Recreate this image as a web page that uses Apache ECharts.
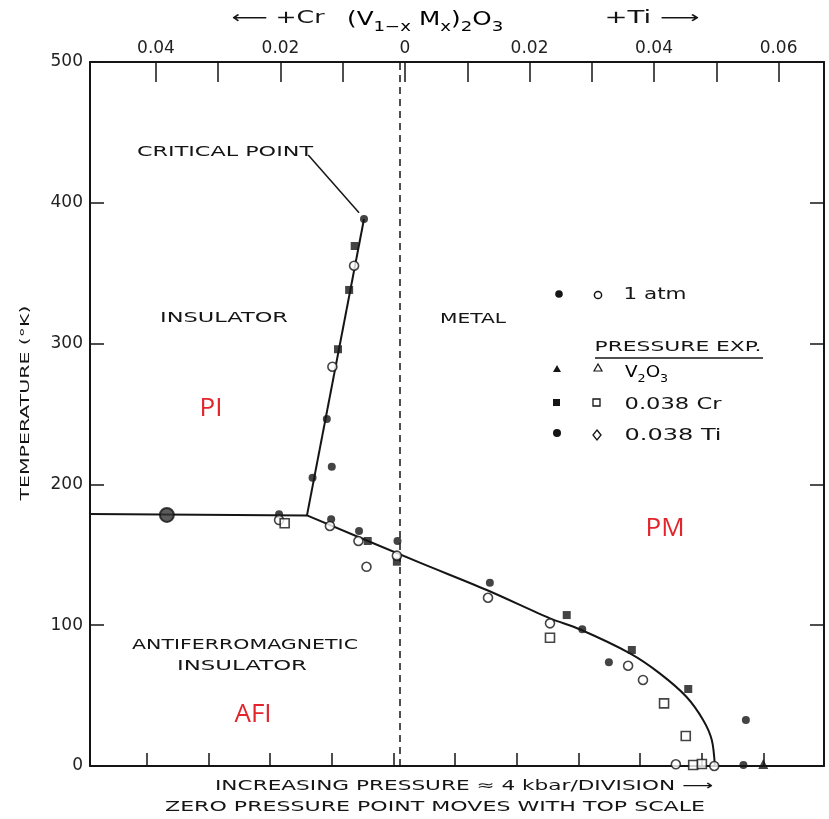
<!DOCTYPE html>
<html>
<head>
<meta charset="utf-8">
<script src="https://cdn.jsdelivr.net/npm/echarts@6/dist/echarts.min.js"></script>
<style>html,body{margin:0;padding:0;background:#fff}#c{width:829px;height:819px}</style>
</head>
<body>
<div id="c"></div>
<script>
// ---------------- data ----------------
const yTickValues = [0, 100, 200, 300, 400, 500];
const topTickValues = [-0.04, -0.02, 0, 0.02, 0.04, 0.06];
const topTickLabels = ['0.04', '0.02', '0', '0.02', '0.04', '0.06'];
const minorTickValues = [-0.04, -0.03, -0.02, -0.01, 0, 0.01, 0.02, 0.03, 0.04, 0.05, 0.06];

// phase boundaries  [composition x (Cr<0, Ti>0), temperature K]
const afiPiBoundary = [[-0.05, 179], [-0.0150, 178]];
const piPmBoundary = [[-0.0150, 178], [-0.0058, 388.5]];
const afiPmBoundary = [[-0.0150, 178], [0.0032, 144.4], [0.0140, 125.0], [0.0242, 104.9], [0.0290, 97.1],
  [0.0371, 80.0], [0.0419, 65.8], [0.0462, 49.2], [0.0489, 32.7], [0.0503, 18.5], [0.0508, 0]];

const filledCircles = [[-0.0058, 388.5], [-0.0118, 246.4], [-0.0110, 212.6], [-0.0141, 204.8], [-0.0195, 178.8],
  [-0.0111, 175.2], [-0.0066, 166.9], [-0.0004, 159.8], [0.0145, 130.2], [0.0294, 97.1], [0.0337, 73.6],
  [0.0558, 32.7], [0.0554, 0.7]];
const filledSquares = [[-0.0073, 369.3], [-0.0082, 338.1], [-0.0100, 296.0], [-0.0052, 159.8],
  [-0.0005, 145.1], [0.0269, 107.2], [0.0374, 82.4], [0.0465, 54.7]];
const openCircles = [[-0.0074, 355.3], [-0.0109, 283.6], [-0.0195, 174.7], [-0.0113, 170.5], [-0.0067, 159.8],
  [-0.0054, 141.5], [-0.0005, 149.4], [0.0142, 119.5], [0.0242, 101.3], [0.0368, 71.2], [0.0392, 61.1],
  [0.0445, 1.2], [0.0507, 0]];
const openSquares = [[-0.0186, 172.4], [0.0242, 91.1], [0.0426, 44.5], [0.0461, 21.3], [0.0473, 0.7], [0.0487, 1.4]];
const filledTriangles = [[0.0586, 1.4]];
const ringPoint = [[-0.0376, 178.3]];

// ---------------- style ----------------
const INK = '#151515';
const FONT = '"DejaVu Sans", "Liberation Sans", sans-serif';
const RED = '#e3242b';

const ctx = document.createElement('canvas').getContext('2d');
function txt(str, cx, cy, size, width, opts) {
  opts = opts || {};
  const font = (opts.weight || 'normal') + ' ' + size + 'px ' + (opts.family || FONT);
  ctx.font = font;
  const w = ctx.measureText(str).width;
  const sx = width ? width / w : 1;
  return {
    type: 'text', x: cx, y: cy, rotation: opts.rotation || 0, scaleX: sx, silent: true, z: 100,
    style: { text: str, font: font, fill: opts.color || INK, align: opts.align || 'center', verticalAlign: 'middle' }
  };
}

function pickLabel(v) {
  for (let i = 0; i < topTickValues.length; i++) {
    if (Math.abs(topTickValues[i] - v) < 1e-6) return topTickLabels[i];
  }
  return '';
}

const chart = echarts.init(document.getElementById('c'));

const subRich = {
  m: { fontSize: 16, fontFamily: FONT, color: INK, lineHeight: 24, verticalAlign: 'middle' },
  s: { fontSize: 11, fontFamily: FONT, color: INK, lineHeight: 24, verticalAlign: 'bottom' }
};
const titleRich = {
  m: { fontSize: 19, fontFamily: FONT, color: INK, lineHeight: 28, verticalAlign: 'middle' },
  s: { fontSize: 14, fontFamily: FONT, color: INK, lineHeight: 28, verticalAlign: 'bottom' }
};

const graphics = [
  // header
  txt('\u27F5 +Cr', 278, 19, 17, 93),
  { type: 'text', x: 347, y: 20, scaleX: 1.3, silent: true, z: 100,
    style: { text: '{m|(V}{s|1\u2212x}{m| M}{s|x}{m|)}{s|2}{m|O}{s|3}', rich: titleRich, align: 'left', verticalAlign: 'middle' } },
  txt('+Ti \u27F6', 652, 19, 17, 95),
  // region labels
  txt('CRITICAL POINT', 225, 152, 14, 176),
  txt('INSULATOR', 224, 318, 14, 128),
  txt('METAL', 473, 319, 14, 66),
  txt('ANTIFERROMAGNETIC', 245, 645, 14, 226),
  txt('INSULATOR', 242, 666, 14, 130),
  txt('PI', 211, 409, 26, null, { color: RED, family: '"Open Sans", "Noto Sans", sans-serif' }),
  txt('AFI', 253, 715, 26, null, { color: RED, family: '"Open Sans", "Noto Sans", sans-serif' }),
  txt('PM', 665, 529, 26, null, { color: RED, family: '"Open Sans", "Noto Sans", sans-serif' }),
  // axis titles
  txt('TEMPERATURE (\u00B0K)', 26, 403, 13, 195, { rotation: Math.PI / 2 }),
  txt('INCREASING PRESSURE \u2248 4 kbar/DIVISION \u27F6', 464, 786, 14, 498),
  txt('ZERO PRESSURE POINT MOVES WITH TOP SCALE', 435, 807, 14, 540),
  // legend
  { type: 'circle', shape: { cx: 559, cy: 294, r: 3.8 }, style: { fill: INK }, silent: true },
  { type: 'circle', shape: { cx: 598, cy: 295, r: 3.6 }, style: { fill: '#fff', stroke: INK, lineWidth: 1.5 }, silent: true },
  txt('1 atm', 655, 295, 16, 63),
  txt('PRESSURE EXP.', 678, 347, 14, 167),
  { type: 'line', shape: { x1: 595, y1: 358, x2: 763, y2: 358 }, style: { stroke: INK, lineWidth: 1.5 }, silent: true },
  { type: 'polygon', shape: { points: [[557, 365], [553, 372], [561, 372]] }, style: { fill: INK }, silent: true },
  { type: 'polygon', shape: { points: [[598, 364], [594, 371], [602, 371]] }, style: { fill: '#fff', stroke: INK, lineWidth: 1.2 }, silent: true },
  { type: 'text', x: 625, y: 373, scaleX: 1.15, silent: true, z: 100,
    style: { text: '{m|V}{s|2}{m|O}{s|3}', rich: subRich, align: 'left', verticalAlign: 'middle' } },
  { type: 'rect', shape: { x: 553, y: 399, width: 7, height: 7 }, style: { fill: INK }, silent: true },
  { type: 'rect', shape: { x: 593, y: 399, width: 7, height: 7 }, style: { fill: '#fff', stroke: INK, lineWidth: 1.3 }, silent: true },
  txt('0.038 Cr', 673, 405, 16, 97),
  { type: 'circle', shape: { cx: 557, cy: 433, r: 4 }, style: { fill: INK }, silent: true },
  { type: 'polygon', shape: { points: [[597, 430], [601, 435], [597, 440], [593, 435]] }, style: { fill: '#fff', stroke: INK, lineWidth: 1.3 }, silent: true },
  txt('0.038 Ti', 673, 436, 16, 97)
];

const lineStyleBase = { color: INK, width: 2 };

const option = {
  animation: false,
  backgroundColor: '#fff',
  grid: { left: 90, right: 5, top: 62, bottom: 53, containLabel: false },
  xAxis: [
    { type: 'value', min: -0.05, max: 0.0684, show: false, axisLine: { onZero: false } },
    { type: 'value', position: 'top', min: -0.0506, max: 0.0673,
      axisLine: { show: true, onZero: false, lineStyle: { color: INK, width: 2 } },
      axisTick: { show: true, inside: true, length: 20, customValues: minorTickValues, lineStyle: { color: INK, width: 1.5 } },
      axisLabel: { show: true, customValues: topTickValues, formatter: pickLabel, margin: 5,
        fontSize: 17, fontFamily: FONT, color: '#222' },
      splitLine: { show: false } },
    { type: 'value', position: 'bottom', min: -0.0492, max: 0.0698,
      axisLine: { show: true, onZero: false, lineStyle: { color: INK, width: 2 } },
      axisTick: { show: true, inside: true, length: 13, customValues: minorTickValues, lineStyle: { color: INK, width: 1.5 } },
      axisLabel: { show: false }, splitLine: { show: false } }
  ],
  yAxis: [
    { type: 'value', position: 'left', min: 0, max: 500, interval: 100,
      axisLine: { show: true, onZero: false, lineStyle: { color: INK, width: 2 } },
      axisTick: { show: true, inside: true, length: 14, lineStyle: { color: INK, width: 1.5 } },
      axisLabel: { show: true, margin: 7, fontSize: 17, fontFamily: FONT, color: '#222' },
      splitLine: { show: false } },
    { type: 'value', position: 'right', min: 0, max: 500, interval: 100,
      axisLine: { show: true, onZero: false, lineStyle: { color: INK, width: 2 } },
      axisTick: { show: true, inside: true, length: 14, lineStyle: { color: INK, width: 1.5 } },
      axisLabel: { show: false }, splitLine: { show: false } }
  ],
  series: [
    { type: 'line', name: 'AFI-PI', data: afiPiBoundary, symbol: 'none', lineStyle: lineStyleBase, silent: true, z: 3,
      markLine: { silent: true, symbol: 'none', label: { show: false },
        lineStyle: { color: INK, width: 1.5, type: [7, 5] }, data: [{ xAxis: 0 }] } },
    { type: 'line', name: 'PI-PM', data: piPmBoundary, symbol: 'none', lineStyle: lineStyleBase, silent: true, z: 3,
      markLine: { silent: true, symbol: ['none', 'arrow'], symbolSize: [0, 11], label: { show: false },
        lineStyle: { color: INK, width: 1.5, type: 'solid' },
        data: [[{ coord: [-0.0148, 434] }, { coord: [-0.0066, 393] }]] } },
    { type: 'line', name: 'AFI-PM', data: afiPmBoundary, symbol: 'none', smooth: 0.3,
      lineStyle: lineStyleBase, silent: true, z: 3 },
    { type: 'scatter', name: 'filled circles', data: filledCircles, symbol: 'circle', symbolSize: 8,
      itemStyle: { color: INK }, z: 5 },
    { type: 'scatter', name: 'filled squares', data: filledSquares, symbol: 'rect', symbolSize: 8,
      itemStyle: { color: INK }, z: 5 },
    { type: 'scatter', name: 'open circles', data: openCircles, symbol: 'circle', symbolSize: 9,
      itemStyle: { color: '#fff', borderColor: INK, borderWidth: 1.6 }, z: 6 },
    { type: 'scatter', name: 'open squares', data: openSquares, symbol: 'rect', symbolSize: 9,
      itemStyle: { color: '#fff', borderColor: INK, borderWidth: 1.6 }, z: 6 },
    { type: 'scatter', name: 'filled triangles', data: filledTriangles, symbol: 'triangle', symbolSize: 10,
      itemStyle: { color: INK }, z: 5 },
    { type: 'scatter', name: 'ring', data: ringPoint, symbol: 'circle', symbolSize: 14,
      itemStyle: { color: '#333', borderColor: INK, borderWidth: 2 }, z: 5 }
  ],
  graphic: graphics
};

chart.setOption(option);
</script>
</body>
</html>
